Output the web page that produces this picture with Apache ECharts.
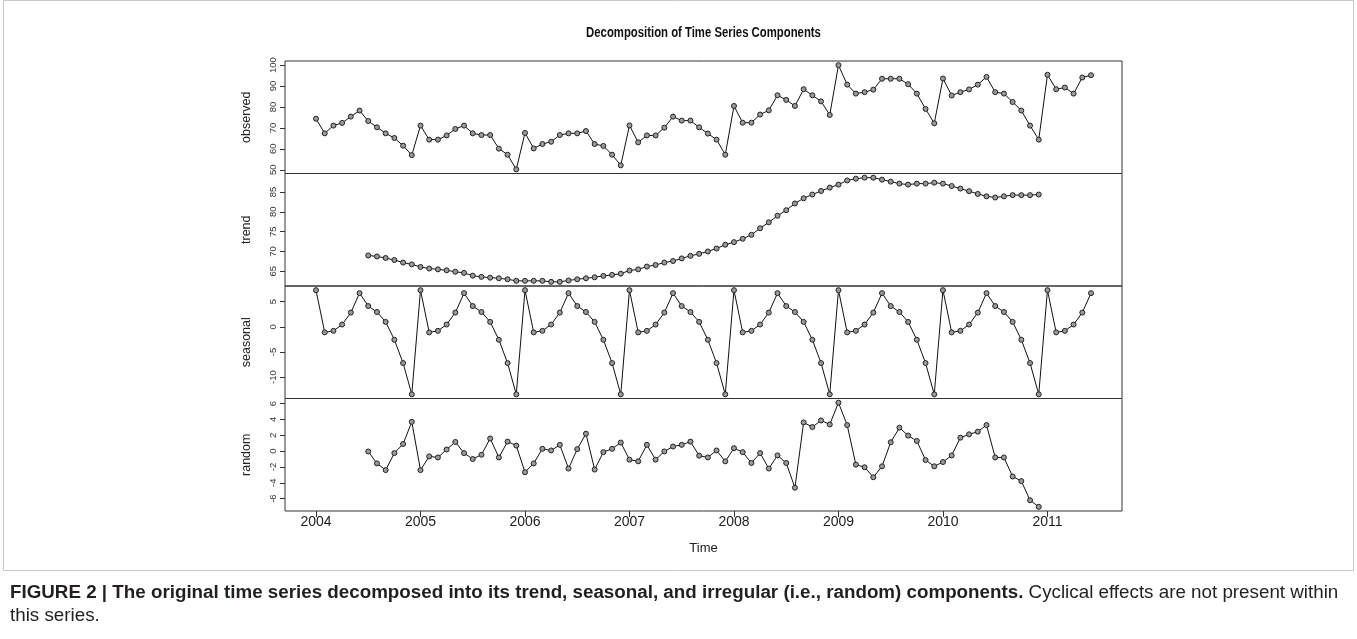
<!DOCTYPE html>
<html>
<head>
<meta charset="utf-8">
<script src="https://cdn.jsdelivr.net/npm/echarts@6/dist/echarts.min.js"></script>
<style>
html, body { margin: 0; padding: 0; background: #ffffff; }
#chart { width: 1357px; height: 639px; }
</style>
</head>
<body>
<div id="chart"></div>
<script>
// Monthly series, January 2004 onwards
const startYear = 2004;
const yearTicks = [2004, 2005, 2006, 2007, 2008, 2009, 2010, 2011];

const observed = [
  74.4, 67.4, 71.1, 72.4, 75.4, 78.3, 73.3, 70.3, 67.4, 65.2, 61.5, 57.0,
  71.1, 64.4, 64.4, 66.4, 69.5, 71.1, 67.4, 66.6, 66.6, 60.1, 57.2, 50.2,
  67.6, 60.2, 62.3, 63.4, 66.6, 67.4, 67.4, 68.5, 62.3, 61.4, 57.2, 52.1,
  71.2, 63.1, 66.4, 66.4, 70.1, 75.4, 73.5, 73.5, 70.3, 67.3, 64.4, 57.2,
  80.5, 72.5, 72.5, 76.4, 78.4, 85.6, 83.4, 80.5, 88.5, 85.6, 82.7, 76.2,
  100.0, 90.7, 86.4, 87.1, 88.3, 93.5, 93.5, 93.5, 90.9, 86.4, 79.1, 72.2,
  93.6, 85.5, 87.1, 88.4, 90.7, 94.4, 87.1, 86.4, 82.4, 78.3, 71.1, 64.4,
  95.4, 88.5, 89.3, 86.4, 94.1, 95.2
];

// Trend and random start in July 2004 (month index 6)
const componentStart = 6;

const trend = [
  69.0, 68.75, 68.35, 67.85, 67.2, 66.75,
  66.1, 65.7, 65.5, 65.25, 64.9, 64.6, 63.9, 63.6, 63.4, 63.25, 63.0, 62.6,
  62.6, 62.6, 62.6, 62.35, 62.35, 62.7, 63.0, 63.25, 63.5, 63.85, 64.1, 64.4,
  65.2, 65.5, 66.2, 66.6, 67.2, 67.6, 68.25, 68.9, 69.4, 70.0, 70.75, 71.7,
  72.35, 73.2, 74.2, 75.85, 77.35, 79.0, 80.4, 82.1, 83.4, 84.35, 85.25, 86.1,
  86.85, 87.9, 88.35, 88.6, 88.6, 88.1, 87.6, 87.1, 86.85, 87.1, 87.1, 87.35,
  87.1, 86.5, 85.85, 85.2, 84.5, 83.9, 83.6, 83.9, 84.2, 84.2, 84.2, 84.35
];

// Seasonal effect for Jan..Dec, identical every year
const seasonalPattern = [7.29, -1.1, -0.8, 0.46, 2.83, 6.7, 4.13, 2.95, 0.98, -2.57, -7.2, -13.42];

const random = [
  -0.05, -1.55, -2.4, -0.25, 0.9, 3.7,
  -2.4, -0.67, -0.8, 0.2, 1.16, -0.25, -1.0, -0.46, 1.6, -0.8, 1.2, 0.7,
  -2.67, -1.55, 0.29, 0.08, 0.79, -2.2, 0.25, 2.2, -2.33, -0.13, 0.29, 1.08,
  -1.08, -1.29, 0.79, -1.08, -0.04, 0.58, 0.79, 1.2, -0.58, -0.8, 0.08, -1.29,
  0.37, -0.13, -1.5, -0.25, -2.2, -0.54, -1.5, -4.63, 3.62, 3.04, 3.87, 3.37,
  6.12, 3.29, -1.71, -2.04, -3.3, -1.92, 1.12, 2.96, 1.96, 1.29, -1.13, -1.92,
  -1.38, -0.54, 1.7, 2.12, 2.46, 3.29, -0.8, -0.8, -3.21, -3.79, -6.21, -7.04
];

const panelNames = ['observed', 'trend', 'seasonal', 'random'];
const observedTicks = [50, 60, 70, 80, 90, 100];
const trendTicks = [65, 70, 75, 80, 85];
const seasonalTicks = [-10, -5, 0, 5];
const randomTicks = [-6, -4, -2, 0, 2, 4, 6];

const titleText = 'Decomposition of Time Series Components';
const xName = 'Time';
const captionBold = 'FIGURE 2 | The original time series decomposed into its trend, seasonal, and irregular (i.e., random) components.';
const captionRest = ' Cyclical effects are not present within';
const captionLine2 = 'this series.';

// ---- build [time, value] pairs ----
function toPairs(values, offset) {
  return values.map((v, i) => [startYear + (offset + i) / 12, v]);
}
const seasonal = observed.map((_, i) => seasonalPattern[i % 12]);

const seriesValues = [observed, trend, seasonal, random];
const seriesPairs = [
  toPairs(observed, 0),
  toPairs(trend, componentStart),
  toPairs(seasonal, 0),
  toPairs(random, componentStart)
];
const tickSets = [observedTicks, trendTicks, seasonalTicks, randomTicks];

// ranges padded by 4% on each side
function padRange(lo, hi) {
  const p = (hi - lo) * 0.04;
  return [lo - p, hi + p];
}
const tFirst = startYear;
const tLast = startYear + (observed.length - 1) / 12;
const [xMin, xMax] = padRange(tFirst, tLast);

const FONT = 'Liberation Sans, Arial, sans-serif';
const plotLeft = 285, plotRight = 1122, plotTop = 61, plotBottom = 511;
const panelH = (plotBottom - plotTop) / 4;

const grids = [], xAxes = [], yAxes = [], series = [];
for (let i = 0; i < 4; i++) {
  grids.push({
    left: plotLeft, width: plotRight - plotLeft,
    top: plotTop + i * panelH, height: panelH,
    show: true, borderColor: '#333', borderWidth: 1, backgroundColor: 'transparent',
    containLabel: false
  });
  const isLast = i === 3;
  xAxes.push({
    gridIndex: i, type: 'value', min: xMin, max: xMax,
    show: isLast, position: 'bottom',
    splitLine: { show: false },
    axisLine: { show: false, onZero: false },
    axisTick: { show: isLast, length: 6, inside: false, customValues: yearTicks, lineStyle: { color: '#333' } },
    axisLabel: {
      show: isLast, customValues: yearTicks, margin: 4, fontSize: 14, color: '#222',
      fontFamily: FONT,
      formatter: v => String(Math.round(v))
    },
    name: isLast ? xName : '', nameLocation: 'middle', nameGap: 31,
    nameTextStyle: { fontSize: 13, color: '#222', fontFamily: FONT }
  });
  const vals = seriesValues[i];
  const [yMin, yMax] = padRange(Math.min(...vals), Math.max(...vals));
  yAxes.push({
    gridIndex: i, type: 'value', min: yMin, max: yMax, position: 'left',
    splitLine: { show: false },
    axisLine: { show: false, onZero: false },
    axisTick: { show: true, length: 5, inside: false, customValues: tickSets[i], lineStyle: { color: '#333' } },
    axisLabel: {
      customValues: tickSets[i], rotate: 90, margin: 7, fontSize: 9.5, color: '#333',
      fontFamily: FONT
    },
    name: panelNames[i], nameLocation: 'middle', nameRotate: 90, nameGap: 32,
    nameTextStyle: { fontSize: 12.5, color: '#222', fontFamily: FONT }
  });
  series.push({
    type: 'line', xAxisIndex: i, yAxisIndex: i,
    data: seriesPairs[i],
    symbol: 'circle', symbolSize: 5, showAllSymbol: true,
    lineStyle: { color: '#111', width: 1 },
    itemStyle: { color: '#9a9a9a', borderColor: '#222', borderWidth: 1 },
    animation: false, silent: true
  });
}

const chart = echarts.init(document.getElementById('chart'), null, { renderer: 'canvas' });
chart.setOption({
  backgroundColor: '#ffffff',
  animation: false,
  grid: grids,
  xAxis: xAxes,
  yAxis: yAxes,
  series: series,
  graphic: [
    {
      type: 'rect', z: -1,
      shape: { x: 3.5, y: 0.5, width: 1350, height: 570 },
      style: { fill: 'none', stroke: '#c8c8c8', lineWidth: 1 }
    },
    {
      // title, set slightly narrow
      type: 'text', x: (plotLeft + plotRight) / 2, y: 33, scaleX: 0.81,
      style: {
        text: titleText, fontSize: 14, fontWeight: 'bold', fill: '#111',
        fontFamily: FONT, align: 'center', verticalAlign: 'middle'
      }
    },
    {
      type: 'text', x: 10, y: 581,
      style: {
        text: '{b|' + captionBold + '}{r|' + captionRest + '}\n{r|' + captionLine2 + '}',
        fontFamily: FONT, verticalAlign: 'top',
        rich: {
          b: { fontSize: 18.8, fontWeight: 'bold', fill: '#231f20', lineHeight: 23, fontFamily: FONT },
          r: { fontSize: 18.8, fill: '#231f20', lineHeight: 23, fontFamily: FONT }
        }
      }
    }
  ]
});
</script>
</body>
</html>
